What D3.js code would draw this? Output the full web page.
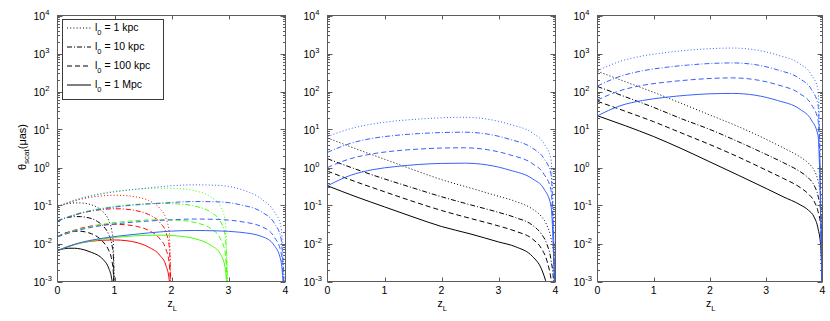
<!DOCTYPE html>
<html>
<head>
<meta charset="utf-8">
<script src="https://cdn.jsdelivr.net/npm/d3@7"></script>
<style>
body { margin: 0; background: #fff; }
svg { display: block; }
text { font-family: "Liberation Sans", Arial, sans-serif; }
</style>
</head>
<body>
<svg id="chart" width="830" height="321"></svg>
<script>
// z_L grids (one per source redshift) and for the decaying curves
const zGrid1 = [0, 0.1, 0.2, 0.3, 0.4, 0.5, 0.6, 0.7, 0.8, 0.9, 0.95, 0.98, 1.0];
const zGrid2 = [0, 0.2, 0.4, 0.6, 0.8, 1.0, 1.2, 1.4, 1.6, 1.8, 1.9, 1.96, 2.0];
const zGrid3 = [0, 0.3, 0.6, 0.9, 1.2, 1.5, 1.8, 2.1, 2.4, 2.7, 2.85, 2.94, 3.0];
const zGrid4 = [0, 0.4, 0.8, 1.2, 1.6, 2.0, 2.4, 2.8, 3.2, 3.6, 3.8, 3.92, 4.0];
const zDecay = [0, 0.5, 1, 1.5, 2, 2.5, 3, 3.3, 3.6, 3.75, 3.85, 3.92, 3.97, 4.0];

// each group: [dotted (1 kpc), dash-dot (10 kpc), dashed (100 kpc), solid (1 Mpc)]
const p1Black = [
  [0.093, 0.105, 0.113, 0.117, 0.117, 0.113, 0.104, 0.089, 0.068, 0.04, 0.023, 0.01, 0.0001],
  [0.039, 0.045, 0.049, 0.051, 0.051, 0.049, 0.045, 0.038, 0.029, 0.017, 0.01, 0.0045, 0.0001],
  [0.015, 0.018, 0.020, 0.021, 0.021, 0.020, 0.018, 0.015, 0.011, 0.0065, 0.0038, 0.0017, 0.0001],
  [0.0065, 0.0072, 0.0075, 0.0075, 0.0072, 0.0066, 0.0058, 0.005, 0.0038, 0.0022, 0.0012, 0.0005, 0.0001]
];
const p1Red = [
  [0.093, 0.12, 0.145, 0.166, 0.18, 0.186, 0.182, 0.165, 0.135, 0.082, 0.047, 0.02, 0.0001],
  [0.039, 0.05, 0.062, 0.072, 0.079, 0.082, 0.08, 0.072, 0.058, 0.035, 0.02, 0.0085, 0.0001],
  [0.015, 0.02, 0.025, 0.029, 0.031, 0.032, 0.031, 0.028, 0.022, 0.013, 0.0072, 0.003, 0.0001],
  [0.0065, 0.0085, 0.0103, 0.0115, 0.0122, 0.0124, 0.0119, 0.0105, 0.008, 0.0048, 0.0027, 0.0011, 0.0001]
];
const p1Green = [
  [0.093, 0.14, 0.185, 0.225, 0.255, 0.275, 0.285, 0.278, 0.245, 0.165, 0.1, 0.043, 0.0001],
  [0.039, 0.058, 0.075, 0.09, 0.102, 0.11, 0.113, 0.11, 0.097, 0.065, 0.04, 0.017, 0.0001],
  [0.015, 0.022, 0.028, 0.034, 0.038, 0.041, 0.042, 0.041, 0.036, 0.024, 0.014, 0.006, 0.0001],
  [0.0065, 0.0093, 0.0118, 0.0138, 0.0153, 0.0163, 0.0166, 0.0158, 0.0135, 0.0088, 0.0055, 0.0024, 0.0001]
];
const p1Blue = [
  [0.093, 0.15, 0.205, 0.25, 0.29, 0.33, 0.35, 0.34, 0.27, 0.14, 0.07, 0.028, 0.0001],
  [0.039, 0.062, 0.082, 0.098, 0.11, 0.12, 0.127, 0.125, 0.105, 0.065, 0.035, 0.014, 0.0001],
  [0.015, 0.023, 0.03, 0.035, 0.039, 0.042, 0.044, 0.043, 0.038, 0.027, 0.015, 0.006, 0.0001],
  [0.0065, 0.0105, 0.0138, 0.0165, 0.019, 0.0212, 0.022, 0.0215, 0.0198, 0.015, 0.009, 0.0035, 0.0001]
];
const p2Black = [
  [6.0, 3.1, 1.65, 0.88, 0.48, 0.29, 0.175, 0.128, 0.08, 0.052, 0.03, 0.014, 0.0042, 0.00003],
  [1.7, 0.9, 0.5, 0.29, 0.17, 0.105, 0.066, 0.048, 0.03, 0.018, 0.0095, 0.0038, 0.0008, 0.00003],
  [0.8, 0.42, 0.23, 0.128, 0.074, 0.046, 0.029, 0.021, 0.013, 0.0075, 0.0035, 0.0012, 0.0003, 0.00003],
  [0.33, 0.17, 0.092, 0.05, 0.028, 0.018, 0.011, 0.0082, 0.0045, 0.0022, 0.0008, 0.0003, 0.0001, 0.00003]
];
const p2Blue = [
  [6.5, 10.5, 14, 16.8, 18.8, 20.3, 21, 18.8, 13.6, 8.0, 4.2, 1.7, 0.0001],
  [2.5, 4.3, 5.9, 7.0, 7.8, 8.3, 8.5, 7.6, 5.5, 3.2, 1.7, 0.68, 0.0001],
  [1.0, 1.7, 2.3, 2.75, 3.05, 3.25, 3.3, 2.95, 2.15, 1.25, 0.66, 0.26, 0.0001],
  [0.33, 0.62, 0.88, 1.06, 1.2, 1.28, 1.3, 1.17, 0.85, 0.5, 0.27, 0.1, 0.0001]
];
const p3Black = [
  [340, 180, 95, 48, 24, 12, 5.5, 3.3, 1.9, 1.3, 0.85, 0.45, 0.16, 0.001],
  [135, 72, 38, 19, 10, 4.8, 2.2, 1.35, 0.78, 0.53, 0.34, 0.18, 0.065, 0.0006],
  [55, 30, 16, 8, 4, 1.9, 0.85, 0.52, 0.3, 0.2, 0.13, 0.07, 0.027, 0.0005],
  [23, 12.5, 6.5, 3.1, 1.4, 0.63, 0.28, 0.17, 0.105, 0.075, 0.05, 0.025, 0.008, 0.0003]
];
const p3Blue = [
  [350, 620, 860, 1050, 1220, 1340, 1390, 1250, 910, 530, 280, 112, 0.0001],
  [140, 250, 350, 430, 495, 545, 565, 510, 370, 215, 115, 45, 0.0001],
  [60, 105, 145, 175, 200, 220, 228, 205, 150, 87, 46, 18, 0.0001],
  [23, 42, 58, 70, 80, 87, 89, 80, 58, 34, 18, 7, 0.0001]
];

const xTicks = [0, 1, 2, 3, 4];
const yExponents = [-3, -2, -1, 0, 1, 2, 3, 4];
const legendLabels = ['1 kpc', '10 kpc', '100 kpc', '1 Mpc'];

const colors = { black: '#000000', red: '#ff0000', green: '#44ff00', blue: '#3560ff' };
const dashes = ['1,2.2', '5,2,1,2', '5,3', null];

const svg = d3.select('#chart');
const yTop = 15.5, yBottom = 281.5;

function group(z, vals, color) {
  return vals.map((v, i) => ({ z: z, v: v, color: color, style: i }));
}

const panels = [
  { left: 57.5, right: 285.5, yLabel: true, legend: true,
    series: [].concat(group(zGrid1, p1Black, colors.black), group(zGrid2, p1Red, colors.red),
                      group(zGrid3, p1Green, colors.green), group(zGrid4, p1Blue, colors.blue)) },
  { left: 327.5, right: 555.5,
    series: [].concat(group(zDecay, p2Black, colors.black), group(zGrid4, p2Blue, colors.blue)) },
  { left: 597.5, right: 822.5,
    series: [].concat(group(zDecay, p3Black, colors.black), group(zGrid4, p3Blue, colors.blue)) }
];

panels.forEach((p, pi) => {
  let x = d3.scaleLinear().domain([0, 4]).range([p.left, p.right]);
  let y = d3.scaleLog().domain([1e-3, 1e4]).range([yBottom, yTop]);
  let g = svg.append('g');

  g.append('clipPath').attr('id', 'clip' + pi)
    .append('rect')
    .attr('x', p.left).attr('y', yTop)
    .attr('width', p.right - p.left).attr('height', yBottom - yTop);

  let line = d3.line()
    .x(d => x(d[0]))
    .y(d => y(d[1]))
    .curve(d3.curveMonotoneX);

  g.append('g').attr('clip-path', 'url(#clip' + pi + ')')
    .selectAll('path')
    .data(p.series)
    .enter().append('path')
    .attr('d', s => line(s.z.map((z, i) => [z, s.v[i]])))
    .attr('fill', 'none')
    .attr('stroke', s => s.color)
    .attr('stroke-width', 1)
    .attr('stroke-dasharray', s => dashes[s.style]);

  // frame
  g.append('rect')
    .attr('x', p.left).attr('y', yTop)
    .attr('width', p.right - p.left).attr('height', yBottom - yTop)
    .attr('fill', 'none').attr('stroke', '#5c5c5c').attr('stroke-width', 1);

  // x ticks
  xTicks.forEach(t => {
    let xx = Math.round(x(t)) + 0.5;
    if (t === 0 || t === 4) return;
    g.append('line').attr('x1', xx).attr('x2', xx).attr('y1', yBottom).attr('y2', yBottom - 4)
      .attr('stroke', '#5c5c5c');
    g.append('line').attr('x1', xx).attr('x2', xx).attr('y1', yTop).attr('y2', yTop + 4)
      .attr('stroke', '#5c5c5c');
  });
  xTicks.forEach(t => {
    g.append('text').attr('x', x(t)).attr('y', 293.5)
      .attr('text-anchor', 'middle').attr('font-size', 10.5).text(t);
  });

  // y ticks (major + minor)
  yExponents.forEach(e => {
    let yy = Math.round(y(Math.pow(10, e))) + 0.5;
    [[p.left, 5], [p.right, -5]].forEach(([x0, len]) => {
      g.append('line').attr('x1', x0).attr('x2', x0 + len).attr('y1', yy).attr('y2', yy)
        .attr('stroke', '#5c5c5c');
    });
    if (e < 4) {
      d3.range(2, 10).forEach(k => {
        let ym = Math.round(y(k * Math.pow(10, e))) + 0.5;
        [[p.left, 2.5], [p.right, -2.5]].forEach(([x0, len]) => {
          g.append('line').attr('x1', x0).attr('x2', x0 + len).attr('y1', ym).attr('y2', ym)
            .attr('stroke', '#5c5c5c');
        });
      });
    }
    let lab = g.append('text').attr('x', p.left - 24).attr('y', y(Math.pow(10, e)) + 4)
      .attr('font-size', 10.5);
    lab.append('tspan').text('10');
    lab.append('tspan').attr('dy', -5).attr('font-size', 7.5).text(e);
  });

  // x label
  let xl = g.append('text').attr('x', (p.left + p.right) / 2 - 4).attr('y', 307)
    .attr('font-size', 10.5);
  xl.append('tspan').text('z');
  xl.append('tspan').attr('dy', 4).attr('font-size', 7.5).text('L');

  if (p.yLabel) {
    let yl = g.append('text').attr('transform', 'translate(26,147) rotate(-90)')
      .attr('text-anchor', 'middle').attr('font-size', 11);
    yl.append('tspan').text('θ');
    yl.append('tspan').attr('dy', 3).attr('font-size', 8).text('scat');
    yl.append('tspan').attr('dy', -3).text('(μas)');
  }

  if (p.legend) {
    let lg = g.append('g');
    lg.append('rect').attr('x', 62.5).attr('y', 19.5).attr('width', 101).attr('height', 80)
      .attr('fill', '#fff').attr('stroke', '#3a3a3a').attr('stroke-width', 1);
    legendLabels.forEach((lab, i) => {
      let ly = 28 + i * 19;
      lg.append('line').attr('x1', 67).attr('x2', 91).attr('y1', ly).attr('y2', ly)
        .attr('stroke', '#000').attr('stroke-dasharray', dashes[i]);
      let t = lg.append('text').attr('x', 95).attr('y', ly + 3).attr('font-size', 10.5);
      t.append('tspan').text('l');
      t.append('tspan').attr('dy', 4).attr('font-size', 7.5).text('0');
      t.append('tspan').attr('dy', -4).text(' = ' + lab);
    });
  }
});
</script>
</body>
</html>
